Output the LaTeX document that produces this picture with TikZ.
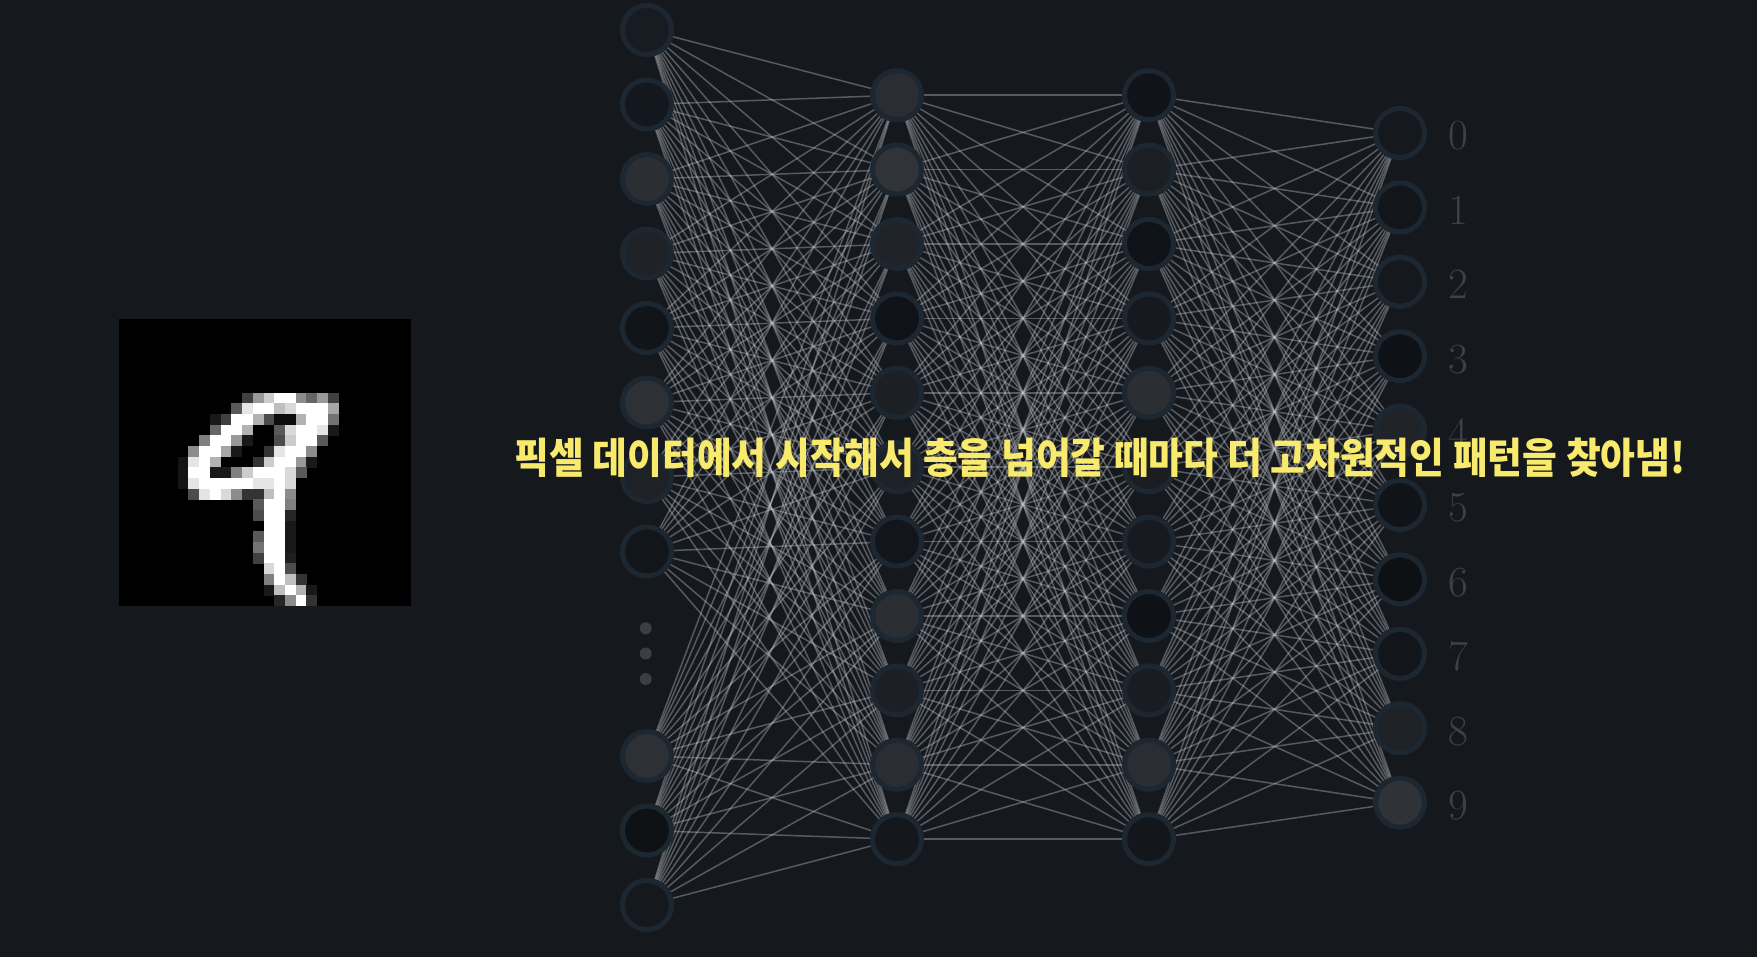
\documentclass[tikz,border=0pt]{standalone}
\usepackage{fontspec}
\newfontfamily\krfont{Noto Sans CJK KR}
\usetikzlibrary{calc}
\definecolor{bgc}{HTML}{15191E}
\definecolor{nstroke}{HTML}{1D2731}
\definecolor{wirec}{HTML}{C4C7CA}
\definecolor{labc}{HTML}{3D4247}
\definecolor{dotc}{HTML}{3B3F44}
\definecolor{txtc}{HTML}{F8EA6C}
\pgfdeclarelayer{bglayer}
\pgfdeclarelayer{edges}
\pgfsetlayers{bglayer,edges,main}
\begin{document}
\begin{tikzpicture}[x=1pt,y=-1pt,
  neuron/.style={circle, draw=nstroke, line width=5pt, minimum size=49pt, inner sep=0pt},
  wire/.style={draw=wirec, line width=1.5pt, draw opacity=0.38},
  digitlabel/.style={text=labc, font=\fontsize{43}{50}\selectfont, anchor=base, inner sep=0pt},
  ell/.style={circle, fill=dotc, minimum size=12pt, inner sep=0pt}]
\begin{pgfonlayer}{bglayer}
\fill[bgc] (0,0) rectangle (1757,957);
\end{pgfonlayer}
\useasboundingbox (0,0) rectangle (1757,957);
% digit image
\fill[black] (119,319) rectangle (411,606);
\foreach \c/\r/\v in {
6/0/25, 7/0/60, 8/0/80, 9/0/100, 10/0/100, 11/0/55, 12/0/40, 13/0/60, 14/0/25,
5/1/35, 6/1/90, 7/1/100, 8/1/100, 9/1/75, 10/1/85, 11/1/100, 12/1/100, 13/1/100, 14/1/65,
3/2/10, 4/2/25, 5/2/100, 6/2/100, 7/2/70, 8/2/30, 9/2/5, 10/2/5, 11/2/70, 12/2/100, 13/2/100, 14/2/45,
3/3/40, 4/3/100, 5/3/100, 6/3/70, 9/3/35, 10/3/85, 11/3/100, 12/3/100, 13/3/90, 14/3/10,
2/4/50, 3/4/100, 4/4/100, 5/4/60, 6/4/10, 9/4/30, 10/4/80, 11/4/100, 12/4/100, 13/4/35,
1/5/55, 2/5/100, 3/5/100, 4/5/65, 5/5/10, 8/5/20, 9/5/90, 10/5/100, 11/5/100, 12/5/55,
0/6/8, 1/6/90, 2/6/100, 3/6/70, 7/6/20, 8/6/80, 9/6/100, 10/6/100, 11/6/60, 12/6/10,
0/7/8, 1/7/100, 2/7/100, 3/7/10, 4/7/10, 5/7/50, 6/7/80, 7/7/100, 8/7/100, 9/7/100, 10/7/85, 11/7/35,
0/8/8, 1/8/90, 2/8/100, 3/8/100, 4/8/100, 5/8/100, 6/8/100, 7/8/90, 8/8/90, 9/8/100, 10/8/85,
1/9/30, 2/9/90, 3/9/100, 4/9/85, 5/9/55, 6/9/20, 7/9/20, 8/9/75, 9/9/100, 10/9/55,
7/10/35, 8/10/100, 9/10/100, 10/10/50,
7/11/30, 8/11/100, 9/11/100, 10/11/15,
8/12/100, 9/12/100, 10/12/10,
7/13/35, 8/13/100, 9/13/100, 10/13/10,
7/14/45, 8/14/100, 9/14/100, 10/14/10,
7/15/25, 8/15/100, 9/15/100, 10/15/12,
8/16/85, 9/16/100, 10/16/30,
8/17/50, 9/17/100, 10/17/75, 11/17/20,
8/18/10, 9/18/75, 10/18/100, 11/18/70, 12/18/10,
9/19/15, 10/19/55, 11/19/100, 12/19/20}
  \fill[white!\v!black] ({177.7+10.73*\c},{392.7+10.67*\r}) rectangle +(10.95,10.9);
% input layer
\foreach \y/\f [count=\i] in {30/171C22, 104.5/13181E, 179/2B2E32, 253.5/1F2328, 328/111519, 402.5/2D3034, 477/1E2226, 551.5/12161A, 756/2D3034, 830.5/0E1215, 905/15191E}{
  \definecolor{tmpf}{HTML}{\f}
  \node[neuron, fill=tmpf] (i\i) at (647,\y) {};
}
\node[ell] (d1) at (645.7,628.3) {};
\node[ell] (d2) at (645.7,653.5) {};
\node[ell] (d3) at (645.7,679) {};
% hidden layer 1
\foreach \f [count=\i] in {2A2D31, 303337, 202428, 0F1317, 1C2024, 1E2226, 12161A, 2B2E32, 1C2025, 2A2D31, 14181D}{
  \definecolor{tmpf}{HTML}{\f}
  \node[neuron, fill=tmpf] (a\i) at (897,{95.2+74.4*(\i-1)}) {};
}
% hidden layer 2
\foreach \f [count=\i] in {101418, 1B1F24, 0F1317, 161A1F, 2B2E32, 1A1E22, 171B20, 0E1216, 191D22, 2A2D31, 13171C}{
  \definecolor{tmpf}{HTML}{\f}
  \node[neuron, fill=tmpf] (b\i) at (1149,{95.2+74.4*(\i-1)}) {};
}
% output layer
\foreach \f [count=\i from 0] in {15191E, 12161B, 15191E, 0E1216, 202428, 101418, 0D1114, 12161B, 1E2226, 2F3236}{
  \definecolor{tmpf}{HTML}{\f}
  \node[neuron, fill=tmpf] (o\i) at (1400,{133+74.4*\i}) {};
  \node[digitlabel] (l\i) at (1458,{150+74.4*\i}) {\i};
}
% connections
\begin{pgfonlayer}{edges}
\foreach \j in {1,...,11}{
  \foreach \k in {1,...,11}{
    \draw[wire] (i\j) -- (a\k);
    \draw[wire] (a\j) -- (b\k);
  }
  \foreach \k in {0,...,9}{
    \draw[wire] (b\j) -- (o\k);
  }
}
\end{pgfonlayer}
% caption
\node[text=txtc, inner sep=0pt] (cap) at (1100,458)
  {\scalebox{0.9}[1]{\krfont\bfseries\fontsize{42}{50}\selectfont 픽셀 데이터에서 시작해서 층을 넘어갈 때마다 더 고차원적인 패턴을 찾아냄!}};
\end{tikzpicture}
\end{document}
